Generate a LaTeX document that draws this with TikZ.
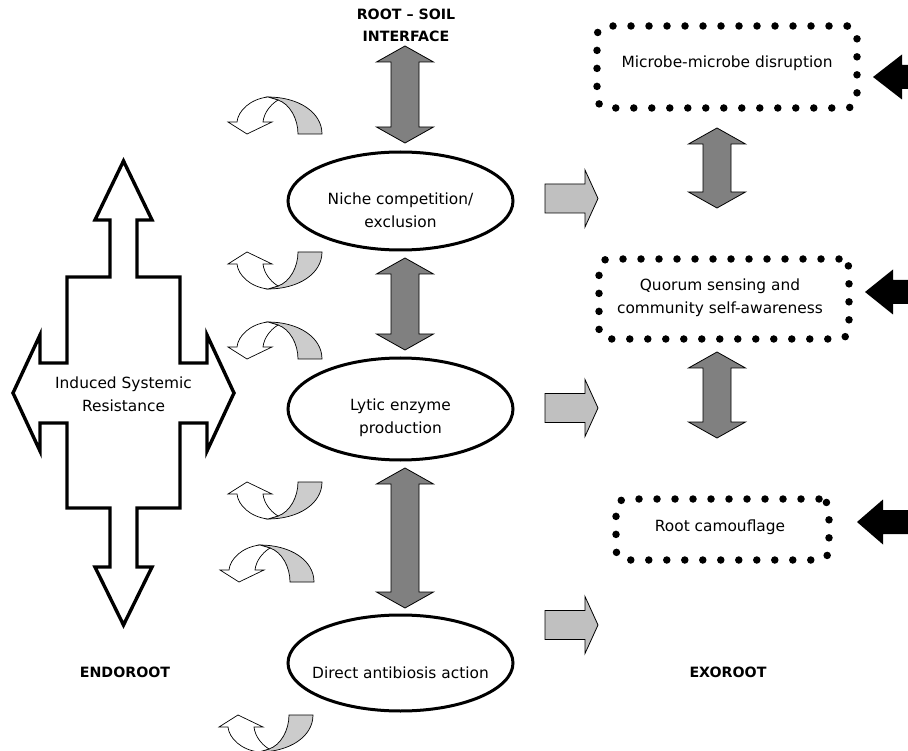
\documentclass[tikz,border=0pt]{standalone}
\usepackage{fontspec}
\setmainfont{DejaVu Sans}
\usetikzlibrary{shapes.geometric}
\definecolor{dgray}{HTML}{808080}
\definecolor{lgray}{HTML}{C0C0C0}
\definecolor{cgray}{HTML}{CCCCCC}
\tikzset{
 lbl/.style={font=\fontsize{15.4}{23}\selectfont, align=center, inner sep=0pt},
 hdr/.style={font=\fontsize{14.2}{22}\selectfont\bfseries, align=center, inner sep=0pt},
 oval/.style={ellipse, draw, line width=3pt, minimum width=225pt, minimum height=98pt, inner sep=0pt},
 dotbox/.style={draw, line width=7.5pt, line cap=round, dash pattern=on 0pt off 18pt, rounded corners=10pt, inner sep=0pt},
 dblarr/.style={fill=dgray, draw=black, line width=0.8pt},
 rarr/.style={fill=lgray, draw=black, line width=0.8pt},
 curvg/.style={fill=cgray, draw=black, line width=0.7pt},
 curvw/.style={fill=white, draw=black, line width=0.7pt},
 isr/.style={draw=black, line width=3.4pt, fill=white}
}
\newcommand\VDbl[3]{\draw[dblarr] (#1,#2) -- (#1+28.5,#2+16) -- (#1+14,#2+16) -- (#1+14,#3-16) -- (#1+28.5,#3-16) -- (#1,#3) -- (#1-28.5,#3-16) -- (#1-14,#3-16) -- (#1-14,#2+16) -- (#1-28.5,#2+16) -- cycle;}
\newcommand\RArr[1]{\draw[rarr] (545,#1-14.5) -- (585,#1-14.5) -- (585,#1-28.5) -- (598,#1) -- (585,#1+28.5) -- (585,#1+14.5) -- (545,#1+14.5) -- cycle;}
\newcommand\BArr[3]{\fill[black] (#1,#3) -- (#2,#3-22.5) -- (#2,#3-12) -- (920,#3-12) -- (920,#3+12) -- (#2,#3+12) -- (#2,#3+22.5) -- cycle;}
\newcommand\CurvShape{%
 \draw[curvg] (40,0) .. controls (70,0) and (94,15) .. (94,37) -- (70,37) .. controls (70,22) and (62,7) .. (50,3) -- cycle;
 \draw[curvw] (40,0) .. controls (22,2) and (10,14) .. (9,25) -- (0,25) -- (19,37) -- (44,25) -- (35,25) .. controls (36,16) and (42,8) .. (50,3) -- cycle;}
\newcommand\CurvDown[2]{\begin{scope}[shift={(#1,#2)}]\CurvShape\end{scope}}
\newcommand\CurvUp[2]{\begin{scope}[shift={(#1,#2+37)},yscale=-1]\CurvShape\end{scope}}
\begin{document}
\begin{tikzpicture}[x=1pt,y=-1pt]
\useasboundingbox (0,0) rectangle (908,751);
\fill[white] (0,0) rectangle (908,751);
\clip (0,0) rectangle (908,751);
% four-way arrow
\draw[isr] (123.5,161) -- (152,220) -- (137,220) -- (137,277) -- (180,277) -- (180,363) -- (207,363) -- (207,335) -- (234,393) -- (207,451) -- (207,423) -- (180,423) -- (180,508) -- (137,508) -- (137,567) -- (152,567) -- (123.5,625) -- (95,567) -- (110,567) -- (110,508) -- (67,508) -- (67,423) -- (40,423) -- (40,451) -- (13,393) -- (40,335) -- (40,363) -- (67,363) -- (67,277) -- (110,277) -- (110,220) -- (95,220) -- cycle;
\node[lbl] (isrtext) at (123.5,394.5) {Induced Systemic\\Resistance};
% headers
\node[hdr] (rsi) at (406,25) {ROOT -- SOIL\\INTERFACE};
\node[hdr] (endo) at (125,672) {ENDOROOT};
\node[hdr] (exo) at (728,672) {EXOROOT};
% curved arrows
\CurvDown{228}{97}
\CurvUp{228}{252}
\CurvDown{228}{322}
\CurvUp{228}{482}
\CurvDown{220}{545}
\CurvUp{219}{715}
% ellipses
\node[oval] (e1) at (400.5,201) {};
\node[lbl] (t1) at (400.5,210) {Niche competition/\\exclusion};
\node[oval, minimum height=102pt] (e2) at (400.5,409) {};
\node[lbl] (t2) at (400.5,417.5) {Lytic enzyme\\production};
\node[oval, minimum height=96pt] (e3) at (400.5,663) {};
\node[lbl] (t3) at (400.5,673) {Direct antibiosis action};
% dark double arrows
\VDbl{405}{46}{143}
\VDbl{405}{258}{350}
\VDbl{405}{468}{608}
\VDbl{717}{128}{208}
\VDbl{717}{352}{438}
% light right arrows
\RArr{198.5}
\RArr{408}
\RArr{625}
% dotted boxes
\node[dotbox, minimum width=260pt, minimum height=82pt] (b1) at (727,67) {};
\node[lbl] (bt1) at (727,63) {Microbe-microbe disruption};
\node[dotbox, minimum width=250pt, minimum height=80pt] (b2) at (724,299) {};
\node[lbl] (bt2) at (720,298) {Quorum sensing and\\community self-awareness};
\node[dotbox, minimum width=213pt, minimum height=61pt] (b3) at (722.5,529.5) {};
\node[lbl] (bt3) at (720,527) {Root camouflage};
% black arrows
\BArr{873}{902}{77}
\BArr{865}{893}{292}
\BArr{857}{883}{522}
\end{tikzpicture}
\end{document}
